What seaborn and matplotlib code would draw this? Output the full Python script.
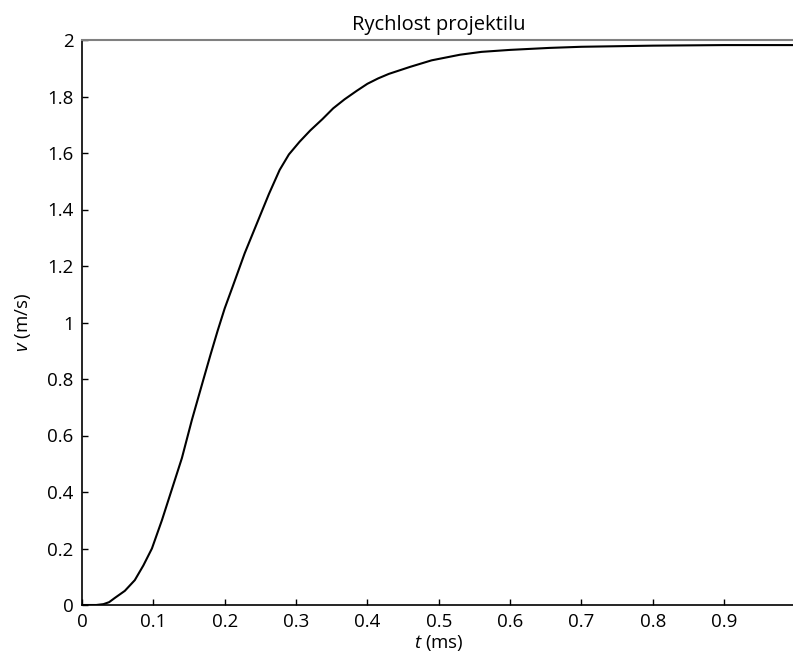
import matplotlib
matplotlib.use("Agg")
import matplotlib.pyplot as plt
import seaborn as sns
import pandas as pd

t_ms = [0, 0.02, 0.03, 0.038, 0.046, 0.06, 0.074, 0.086, 0.098, 0.112, 0.126, 0.14,
        0.154, 0.17, 0.18, 0.19, 0.2, 0.211, 0.228, 0.245, 0.262, 0.277, 0.29, 0.305,
        0.32, 0.337, 0.352, 0.368, 0.385, 0.40, 0.415,
        0.43, 0.46, 0.49, 0.53, 0.56, 0.6, 0.655, 0.7, 0.8, 0.9, 1.0]
v_ms = [0, 0, 0.003, 0.01, 0.025, 0.05, 0.088, 0.14, 0.2, 0.30, 0.41, 0.52,
        0.655, 0.797, 0.885, 0.97, 1.05, 1.126, 1.245, 1.35, 1.455, 1.54, 1.595, 1.64,
        1.68, 1.72, 1.758, 1.79, 1.82, 1.845, 1.864,
        1.88, 1.905, 1.928, 1.948, 1.958, 1.965, 1.972, 1.976, 1.98, 1.982, 1.982]
x_ticks = [0, 0.1, 0.2, 0.3, 0.4, 0.5, 0.6, 0.7, 0.8, 0.9]
x_tick_labels = ["0", "0.1", "0.2", "0.3", "0.4", "0.5", "0.6", "0.7", "0.8", "0.9"]
y_ticks = [0, 0.2, 0.4, 0.6, 0.8, 1.0, 1.2, 1.4, 1.6, 1.8, 2.0]
y_tick_labels = ["0", "0.2", "0.4", "0.6", "0.8", "1", "1.2", "1.4", "1.6", "1.8", "2"]
title = "Rychlost projektilu"

sns.set_style("white")
plt.rcParams['font.family'] = ['Open Sans', 'DejaVu Sans']
plt.rcParams['mathtext.fontset'] = 'custom'
plt.rcParams['mathtext.it'] = 'Open Sans:italic'
plt.rcParams['mathtext.rm'] = 'Open Sans'
plt.rcParams['text.color'] = 'black'
plt.rcParams['axes.labelcolor'] = 'black'
plt.rcParams['xtick.color'] = 'black'
plt.rcParams['ytick.color'] = 'black'

df = pd.DataFrame({"t": t_ms, "v": v_ms})

W, H = 793, 654
fig = plt.figure(figsize=(W / 100, H / 100), dpi=100)
ax = fig.add_axes([82 / W, (H - 605) / H, (795.5 - 82) / W, (605 - 40) / H])

sns.lineplot(data=df, x="t", y="v", ax=ax, color="black", linewidth=1.5)

ax.set_xlim(0, 1.0)
ax.set_ylim(0, 2.0)
ax.set_xticks(x_ticks)
ax.set_xticklabels(x_tick_labels)
ax.set_yticks(y_ticks)
ax.set_yticklabels(y_tick_labels)
ax.tick_params(direction="in", length=4, width=1, colors="black",
               labelsize=13.5, pad=6, top=False, right=False, bottom=True, left=True)
ax.tick_params(axis="x", pad=6)

for side in ["left", "bottom"]:
    ax.spines[side].set_color("black")
    ax.spines[side].set_linewidth(1.2)
ax.spines["top"].set_color("#808080")
ax.spines["top"].set_linewidth(1.5)
ax.spines["right"].set_visible(False)

ax.set_xlabel(r"$t$ (ms)", fontsize=13.5, labelpad=1)
ax.set_ylabel(r"$v$ (m/s)", fontsize=13.5, labelpad=10)
ax.set_title(title, fontsize=14.5, pad=7)

fig.savefig("out.png", dpi=100)
